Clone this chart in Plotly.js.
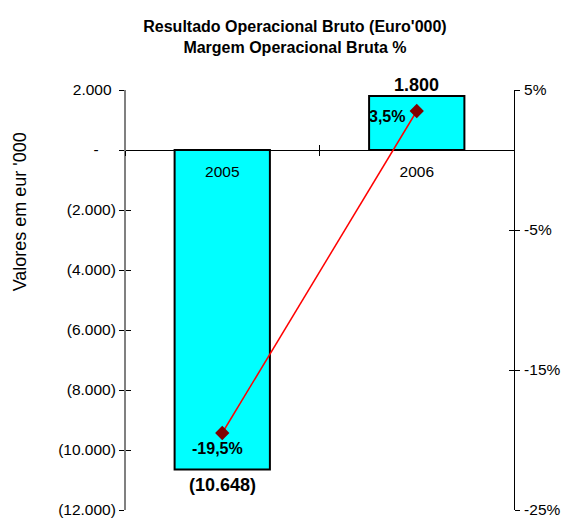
<!DOCTYPE html>
<html>
<head>
<meta charset="utf-8">
<script src="https://cdn.plot.ly/plotly-3.0.1.min.js"></script>
<style>html,body{margin:0;padding:0;background:#fff;}#chart{width:564px;height:519px;}</style>
</head>
<body>
<div id="chart"></div>
<script>
// ---- data ----
const years = ['2005', '2006'];
const resultado = [-10648, 1800];          // Euro'000
const margem = [-19.5, 3.5];               // %
const leftTickVals = [2000, 0, -2000, -4000, -6000, -8000, -10000, -12000];
const leftTickText = ['2.000\u00a0', '-\u2007\u2007', '(2.000)', '(4.000)', '(6.000)', '(8.000)', '(10.000)', '(12.000)'];
const rightTickVals = [5, -5, -15, -25];
const rightTickText = ['5%', '-5%', '-15%', '-25%'];
const leftRange = [-12000, 2000];
const rightRange = [-25, 5];

const FONT = 'Liberation Sans, Arial, sans-serif';

function fmtValue(v) {
  const s = Math.abs(v).toString().replace(/\B(?=(\d{3})+(?!\d))/g, '.');
  return v < 0 ? '(' + s + ')' : s;
}
function fmtPct(v) {
  return v.toFixed(1).replace('.', ',') + '%';
}

const zeroPos = (0 - leftRange[0]) / (leftRange[1] - leftRange[0]);

const traces = [
  {
    type: 'bar', x: years, y: resultado, xaxis: 'x', yaxis: 'y',
    width: 0.49,
    marker: {color: '#00FFFF', line: {color: '#000000', width: 2}},
    hoverinfo: 'skip', showlegend: false
  },
  {
    type: 'scatter', mode: 'lines+markers', x: years, y: margem, xaxis: 'x', yaxis: 'y2',
    line: {color: '#FF0000', width: 1.5},
    marker: {symbol: 'diamond', size: 11, color: '#800000'},
    hoverinfo: 'skip', showlegend: false
  },
  // helper traces so the cross-tick overlay axes get drawn
  {type: 'scatter', x: [], y: [], xaxis: 'x2', yaxis: 'y3', hoverinfo: 'skip', showlegend: false},
  {type: 'scatter', x: [], y: [], xaxis: 'x', yaxis: 'y4', hoverinfo: 'skip', showlegend: false}
];

const annotations = [];
resultado.forEach((v, i) => {
  annotations.push({
    x: i, y: v, xref: 'x', yref: 'y',
    text: '<b>' + fmtValue(v) + '</b>', showarrow: false,
    font: {family: FONT, size: 18, color: '#000'},
    xanchor: 'center',
    yanchor: v >= 0 ? 'bottom' : 'top', yshift: v >= 0 ? -1 : -4
  });
});
margem.forEach((v, i) => {
  const neg = v < 0;
  annotations.push({
    x: i, y: v, xref: 'x', yref: 'y2',
    text: '<b>' + fmtPct(v) + '</b>', showarrow: false,
    font: {family: FONT, size: 16, color: '#000'},
    xanchor: neg ? 'center' : 'right', yanchor: neg ? 'top' : 'middle',
    xshift: neg ? -5 : -10, yshift: neg ? -5 : -5
  });
});
annotations.push({
  text: "Valores em eur '000", xref: 'paper', yref: 'paper',
  x: -0.269, y: 0.7095, xanchor: 'center', yanchor: 'middle',
  textangle: -90, showarrow: false,
  font: {family: FONT, size: 18, color: '#000'}
});

const layout = {
  width: 564, height: 519,
  margin: {l: 125, r: 50, t: 90, b: 9},
  paper_bgcolor: '#ffffff', plot_bgcolor: 'rgba(0,0,0,0)',
  font: {family: FONT, color: '#000'},
  showlegend: false,
  title: {
    text: "<b>Resultado Operacional Bruto (Euro'000)</b><br><b>Margem Operacional Bruta %</b>",
    x: 0.523, xanchor: 'center', xref: 'container',
    y: 0.938, yanchor: 'top', yref: 'container',
    font: {family: FONT, size: 16, color: '#000'}
  },
  xaxis: {
    type: 'category', range: [-0.5, 1.5],
    anchor: 'free', position: zeroPos,
    showline: false, showgrid: false, zeroline: false,
    ticks: 'outside', ticklen: 5, tickcolor: '#000', tickwidth: 1,
    tickson: 'boundaries',
    tickfont: {family: FONT, size: 15.5, color: '#000'},
    ticklabelstandoff: 10,
    fixedrange: true
  },
  xaxis2: {
    type: 'category', range: [-0.5, 1.5], overlaying: 'x',
    anchor: 'free', position: zeroPos,
    categoryarray: years, categoryorder: 'array',
    showline: false, showgrid: false, zeroline: false,
    ticks: 'inside', ticklen: 5, tickcolor: '#000', tickwidth: 1,
    tickson: 'boundaries', showticklabels: false, fixedrange: true
  },
  yaxis: {
    range: leftRange, tickvals: leftTickVals, ticktext: leftTickText,
    showline: true, linecolor: '#808080', linewidth: 2,
    showgrid: false, zeroline: true, zerolinecolor: '#000', zerolinewidth: 1,
    ticks: 'outside', ticklen: 5, tickcolor: '#000', tickwidth: 1,
    tickfont: {family: FONT, size: 15.5, color: '#000'},
    ticklabelstandoff: 0,
    anchor: 'free', position: 0, side: 'left', fixedrange: true
  },
  yaxis3: {
    range: leftRange, tickvals: leftTickVals, overlaying: 'y',
    showline: false, showgrid: false, zeroline: false,
    ticks: 'inside', ticklen: 5, tickcolor: '#000', tickwidth: 1,
    showticklabels: false, anchor: 'free', position: 0, side: 'left', fixedrange: true
  },
  yaxis2: {
    range: rightRange, tickvals: rightTickVals, ticktext: rightTickText,
    overlaying: 'y', side: 'right', anchor: 'free', position: 1,
    showline: true, linecolor: '#000', linewidth: 1,
    showgrid: false, zeroline: false,
    ticks: 'outside', ticklen: 5, tickcolor: '#000', tickwidth: 1,
    tickfont: {family: FONT, size: 15.5, color: '#000'},
    ticklabelstandoff: 1, fixedrange: true
  },
  yaxis4: {
    range: rightRange, tickvals: rightTickVals, overlaying: 'y', side: 'right',
    anchor: 'free', position: 1,
    showline: false, showgrid: false, zeroline: false,
    ticks: 'inside', ticklen: 5, tickcolor: '#000', tickwidth: 1,
    showticklabels: false, fixedrange: true
  },
  annotations: annotations
};

Plotly.newPlot('chart', traces, layout, {staticPlot: true, displayModeBar: false});
</script>
</body>
</html>
